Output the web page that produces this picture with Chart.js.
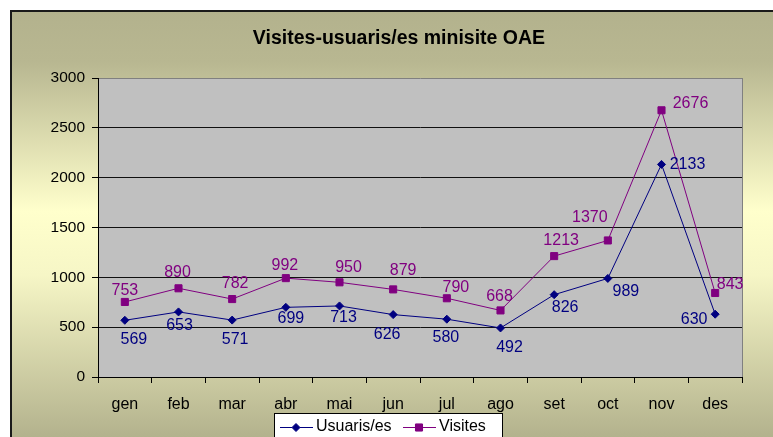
<!DOCTYPE html>
<html>
<head>
<meta charset="utf-8">
<script src="https://cdn.jsdelivr.net/npm/chart.js@4/dist/chart.umd.min.js"></script>
<style>
  html, body { margin: 0; padding: 0; background: #fff; }
  #wrap { width: 773px; height: 437px; }
</style>
</head>
<body>
<div id="wrap"><canvas id="chart" width="773" height="437"></canvas></div>
<script>
const months = ['gen', 'feb', 'mar', 'abr', 'mai', 'jun', 'jul', 'ago', 'set', 'oct', 'nov', 'des']
const usuaris = [569, 653, 571, 699, 713, 626, 580, 492, 826, 989, 2133, 630]
const visites = [753, 890, 782, 992, 950, 879, 790, 668, 1213, 1370, 2676, 843]
const chartTitle = 'Visites-usuaris/es minisite OAE'

const FONT = "'Liberation Sans', Arial, sans-serif"

// label offsets from each point, as placed in the original sheet
const labelOffsets = [
    [[9, 19], [1, 14], [3, 20], [5, 11], [4, 12], [-6, 20], [-1, 18], [9, 20], [11, 13], [18, 13], [26, 0], [-21, 5]],
    [[0, -11], [-1, -16], [3, -15], [-1, -13], [9, -15], [10, -19], [9, -11], [-1, -14], [7, -16], [-18, -23], [29, -7], [15, -8]]
]

const frame = {
    id: 'frame',
    beforeDraw(chart) {
        const ctx = chart.ctx
        const a = chart.chartArea
        ctx.save()
        ctx.fillStyle = '#fff'
        ctx.fillRect(0, 0, chart.width, chart.height)
        const g = ctx.createLinearGradient(0, 11, 0, 437)
        g.addColorStop(0, '#b3b28d')
        g.addColorStop(0.12, '#b8b791')
        g.addColorStop(0.47, '#ffffcc')
        g.addColorStop(0.62, '#f6f6c6')
        g.addColorStop(1, '#b3b28d')
        ctx.fillStyle = g
        ctx.fillRect(11, 11, 800, 500)
        ctx.strokeStyle = '#1a1a1a'
        ctx.lineWidth = 2
        ctx.strokeRect(11, 11, 800, 500)
        // plot area
        ctx.fillStyle = '#c0c0c0'
        ctx.fillRect(a.left, a.top, a.right - a.left, a.bottom - a.top)
        ctx.strokeStyle = '#808080'
        ctx.lineWidth = 1
        ctx.beginPath()
        ctx.moveTo(a.right + 0.5, a.top)
        ctx.lineTo(a.right + 0.5, a.bottom)
        ctx.stroke()
        // title
        ctx.fillStyle = '#000'
        ctx.font = 'bold 19.5px ' + FONT
        ctx.textAlign = 'center'
        ctx.textBaseline = 'middle'
        ctx.fillText(chartTitle, 399, 39)
        ctx.restore()
    },
    afterDatasetsDraw(chart) {
        const ctx = chart.ctx
        ctx.save()
        ctx.font = '16px ' + FONT
        ctx.textAlign = 'center'
        ctx.textBaseline = 'middle'
        chart.data.datasets.forEach(function (ds, i) {
            const meta = chart.getDatasetMeta(i)
            ctx.fillStyle = ds.borderColor
            meta.data.forEach(function (pt, j) {
                const off = labelOffsets[i][j]
                ctx.fillText(String(ds.data[j]), pt.x + off[0], pt.y + off[1])
            })
        })
        ctx.restore()
    },
    afterDraw(chart) {
        // legend box at the bottom
        const ctx = chart.ctx
        ctx.save()
        ctx.fillStyle = '#fff'
        ctx.fillRect(274, 413, 228, 40)
        ctx.strokeStyle = '#000'
        ctx.lineWidth = 1
        ctx.strokeRect(274.5, 413.5, 228, 40)
        ctx.font = '16px ' + FONT
        ctx.textBaseline = 'middle'
        ctx.textAlign = 'left'
        const items = [{x: 280, label: chart.data.datasets[0].label, ds: chart.data.datasets[0]},
                       {x: 403, label: chart.data.datasets[1].label, ds: chart.data.datasets[1]}]
        const y = 427
        items.forEach(function (it) {
            ctx.strokeStyle = it.ds.borderColor
            ctx.beginPath()
            ctx.moveTo(it.x, y + 0.5)
            ctx.lineTo(it.x + 33, y + 0.5)
            ctx.stroke()
            Chart.helpers.drawPoint(ctx, {pointStyle: it.ds.pointStyle, radius: it.ds.pointRadius, borderWidth: 1},
                it.x + 16, y + 0.5)
            ctx.fillStyle = it.ds.borderColor
            ctx.fill()
            ctx.fillStyle = '#000'
            ctx.fillText(it.label, it.x + 36, y)
        })
        ctx.restore()
    }
}

new Chart(document.getElementById('chart').getContext('2d'), {
    type: 'line',
    data: {
        labels: months,
        datasets: [{
            label: 'Usuaris/es',
            data: usuaris,
            borderColor: '#000080',
            backgroundColor: '#000080',
            borderWidth: 1,
            pointStyle: 'rectRot',
            pointRadius: 4,
            pointBorderWidth: 1,
            tension: 0
        }, {
            label: 'Visites',
            data: visites,
            borderColor: '#800080',
            backgroundColor: '#800080',
            borderWidth: 1,
            pointStyle: 'rect',
            pointRadius: 5,
            pointBorderWidth: 1,
            tension: 0
        }]
    },
    options: {
        responsive: false,
        animation: false,
        events: [],
        layout: {padding: {top: 78, right: 31, left: 0, bottom: 0}},
        plugins: {
            legend: {display: false},
            title: {display: false},
            tooltip: {enabled: false}
        },
        scales: {
            x: {
                offset: true,
                grid: {offset: true, drawOnChartArea: false, drawTicks: true, tickLength: 6, color: '#000'},
                border: {color: '#000', width: 1},
                ticks: {color: '#000', font: {family: FONT, size: 16}, padding: 12, maxRotation: 0},
                afterFit(scale) { scale.height = 60 }
            },
            y: {
                min: 0,
                max: 3000,
                grid: {
                    color: c => (c.tick && c.tick.value === 3000) ? '#808080' : '#111',
                    tickColor: '#000',
                    tickLength: 6
                },
                border: {color: '#000', width: 1},
                ticks: {
                    stepSize: 500, color: '#000', font: {family: FONT, size: 15.5}, padding: 7,
                    callback: v => String(v)
                },
                afterFit(scale) { scale.width = 98 }
            }
        }
    },
    plugins: [frame]
})
</script>
</body>
</html>
